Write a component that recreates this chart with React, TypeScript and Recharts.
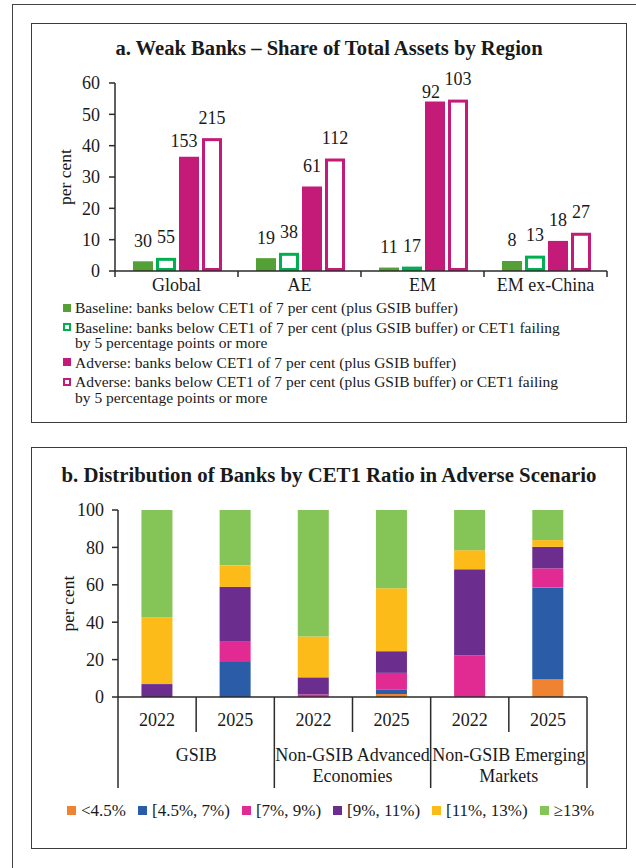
import React from 'react';
import { BarChart, Bar, XAxis, YAxis, LabelList, Label } from 'recharts';

const FONT = '"Liberation Serif", "Times New Roman", serif';
const INK = '#1a1a1a';
const AXIS = '#2b2b2b';

// ---------- Panel a: Weak banks – share of total assets by region ----------
const regions = ['Global', 'AE', 'EM', 'EM ex-China'];
const baselineBelow = [3.1, 4.1, 1.1, 3.2];
const baselineBelowOrFailing = [4.2, 5.8, 1.4, 4.9];
const adverseBelow = [36.5, 27.0, 54.1, 9.6];
const adverseBelowOrFailing = [42.4, 35.9, 54.7, 12.2];
const baselineBelowCount = [30, 19, 11, 8];
const baselineBelowOrFailingCount = [55, 38, 17, 13];
const adverseBelowCount = [153, 61, 92, 18];
const adverseBelowOrFailingCount = [215, 112, 103, 27];
const panelATicks = [0, 10, 20, 30, 40, 50, 60];

const legendA = [
  { key: 'bb', color: '#55a036', outline: false, lines: ['Baseline: banks below CET1 of 7 per cent (plus GSIB buffer)'] },
  { key: 'bbf', color: '#00b050', outline: true, lines: ['Baseline: banks below CET1 of 7 per cent (plus GSIB buffer) or CET1 failing', 'by 5 percentage points or more'] },
  { key: 'ab', color: '#c51b78', outline: false, lines: ['Adverse: banks below CET1 of 7 per cent (plus GSIB buffer)'] },
  { key: 'abf', color: '#c51b78', outline: true, lines: ['Adverse: banks below CET1 of 7 per cent (plus GSIB buffer) or CET1 failing', 'by 5 percentage points or more'] },
];

const panelAData = regions.map((region, i) => ({
  region,
  bb: baselineBelow[i],
  bbf: baselineBelowOrFailing[i],
  ab: adverseBelow[i],
  abf: adverseBelowOrFailing[i],
  bbN: baselineBelowCount[i],
  bbfN: baselineBelowOrFailingCount[i],
  abN: adverseBelowCount[i],
  abfN: adverseBelowOrFailingCount[i],
}));

// ---------- Panel b: distribution of banks by CET1 ratio ----------
const years = ['2022', '2025', '2022', '2025', '2022', '2025'];
const groupLabels = [['GSIB'], ['Non-GSIB Advanced', 'Economies'], ['Non-GSIB Emerging', 'Markets']];
const below45 = [0, 0, 0, 1.6, 0, 9.3];
const from45to7 = [0, 18.7, 0, 2.5, 0, 49.3];
const from7to9 = [0, 10.8, 1.4, 8.8, 22.2, 10.2];
const from9to11 = [6.9, 29.4, 9.1, 11.6, 46.1, 11.5];
const from11to13 = [35.6, 11.5, 21.8, 33.6, 10.2, 3.6];
const atLeast13 = [57.5, 29.6, 67.7, 41.9, 21.5, 16.1];
const panelBTicks = [0, 20, 40, 60, 80, 100];

const seriesB = [
  { key: 's1', name: '<4.5%', color: '#f08331', values: below45 },
  { key: 's2', name: '[4.5%, 7%)', color: '#2b5ca8', values: from45to7 },
  { key: 's3', name: '[7%, 9%)', color: '#e22a93', values: from7to9 },
  { key: 's4', name: '[9%, 11%)', color: '#6b2e8f', values: from9to11 },
  { key: 's5', name: '[11%, 13%)', color: '#fdbb19', values: from11to13 },
  { key: 's6', name: '≥13%', color: '#85c457', values: atLeast13 },
];

const panelBData = years.map((year, i) => {
  const row: any = { cat: `${i}`, year };
  seriesB.forEach((s) => { row[s.key] = s.values[i]; });
  return row;
});

// ---------- layout constants ----------
const A_MARGIN = { top: 83, right: 29, left: 55, bottom: 0 };
const A_W = 636, A_H = 301, Y_W = 60, A_XH = 30;
const A_BAND = (A_W - A_MARGIN.left - A_MARGIN.right - Y_W) / regions.length;

const B_MARGIN = { top: 70, right: 49, left: 58, bottom: 0 };
const B_W = 636, B_H = 360, B_XH = 103;
const B_BAND = (B_W - B_MARGIN.left - B_MARGIN.right - Y_W) / years.length;

// label nudges for the count annotations (series -> index -> [dx, dy])
const labelNudge: Record<string, Record<number, [number, number]>> = {
  ab: { 0: [-5, 5], 2: [-4, 11] },
};

const makeCountLabel = (seriesKey: string) => (props: any) => {
  const { x, y, width, value, index } = props;
  const n = (labelNudge[seriesKey] && labelNudge[seriesKey][index]) || [0, 0];
  return (
    <text
      x={x + width / 2 + n[0]}
      y={y - 20.5 + n[1]}
      textAnchor="middle"
      dominantBaseline="central"
      fontSize={18}
      fontFamily={FONT}
      fill={INK}
    >
      {value}
    </text>
  );
};

const outlineShape = (color: string) => (props: any) => {
  const { x, y, width, height } = props;
  if (!height || height <= 0) return <g />;
  const sw = 3;
  return (
    <rect
      x={x + sw / 2}
      y={y + sw / 2}
      width={Math.max(width - sw, 0)}
      height={Math.max(height - sw, 0.5)}
      fill="#fff"
      stroke={color}
      strokeWidth={sw}
    />
  );
};

const RegionTick = (props: any) => {
  const { x, y, payload, index } = props;
  const half = A_BAND / 2;
  return (
    <g>
      <line x1={x - half} y1={y} x2={x - half} y2={y + 6} stroke={AXIS} strokeWidth={1.5} />
      {index === regions.length - 1 && (
        <line x1={x + half} y1={y} x2={x + half} y2={y + 6} stroke={AXIS} strokeWidth={1.5} />
      )}
      <text x={x} y={y + 14} textAnchor="middle" dominantBaseline="central" fontSize={18} fontFamily={FONT} fill={INK}>
        {payload.value}
      </text>
    </g>
  );
};

const YearTick = (props: any) => {
  const { x, y, index } = props;
  const half = B_BAND / 2;
  const groupStart = index % 2 === 0;
  const lines = groupLabels[Math.floor(index / 2)];
  return (
    <g>
      <line x1={x - half} y1={y} x2={x - half} y2={y + (groupStart ? 91 : 35)} stroke={AXIS} strokeWidth={1.5} />
      {index === years.length - 1 && (
        <line x1={x + half} y1={y} x2={x + half} y2={y + 91} stroke={AXIS} strokeWidth={1.5} />
      )}
      <text x={x} y={y + 23} textAnchor="middle" dominantBaseline="central" fontSize={18} fontFamily={FONT} fill={INK}>
        {years[index]}
      </text>
      {!groupStart &&
        lines.map((ln, k) => (
          <text
            key={k}
            x={x - half}
            y={y + 58 + k * 21}
            textAnchor="middle"
            dominantBaseline="central"
            fontSize={18}
            fontFamily={FONT}
            fill={INK}
          >
            {ln}
          </text>
        ))}
    </g>
  );
};

const perCentLabel = (props: any) => {
  const vb = props.viewBox || {};
  const cx = (vb.x || 0) + 10;
  const cy = (vb.y || 0) + (vb.height || 0) / 2;
  return (
    <text
      x={cx}
      y={cy}
      transform={`rotate(-90, ${cx}, ${cy})`}
      textAnchor="middle"
      dominantBaseline="central"
      fontSize={17.5}
      fontFamily={FONT}
      fill={INK}
    >
      per cent
    </text>
  );
};

const yTick = { fontSize: 18, fontFamily: FONT, fill: INK };

export default function App() {
  return (
    <div style={{ position: 'absolute', left: 0, top: 0, width: 636, height: 868, overflow: 'hidden', background: '#fff', fontFamily: FONT }}>
      {/* outer frame */}
      <div style={{ position: 'absolute', left: 12, top: 3.5, width: 700, height: 900, borderLeft: '1.5px solid #444', borderTop: '1.5px solid #444' }} />
      {/* panel boxes */}
      <div style={{ position: 'absolute', left: 31, top: 23, width: 596, height: 400, border: '1.5px solid #3a3a3a', boxSizing: 'border-box' }} />
      <div style={{ position: 'absolute', left: 31, top: 447, width: 596, height: 402, border: '1.5px solid #3a3a3a', boxSizing: 'border-box' }} />

      {/* titles */}
      <div style={{ position: 'absolute', left: 31, width: 596, top: 36, lineHeight: '24px', textAlign: 'center', fontSize: 20.6, fontWeight: 'bold', color: INK }}>
        a. Weak Banks – Share of Total Assets by Region
      </div>
      <div style={{ position: 'absolute', left: 31, width: 596, top: 463, lineHeight: '24px', textAlign: 'center', fontSize: 20.8, fontWeight: 'bold', color: INK }}>
        b. Distribution of Banks by CET1 Ratio in Adverse Scenario
      </div>

      {/* panel a chart */}
      <div style={{ position: 'absolute', left: 0, top: 0 }}>
        <BarChart width={A_W} height={A_H} data={panelAData} margin={A_MARGIN} barCategoryGap={18} barGap={3}>
          <XAxis
            dataKey="region"
            interval={0}
            tickSize={0}
            tickMargin={0}
            tickLine={false}
            height={A_XH}
            axisLine={{ stroke: AXIS, strokeWidth: 1.5 }}
            tick={<RegionTick />}
          />
          <YAxis
            width={Y_W}
            domain={[0, 60]}
            ticks={panelATicks}
            interval={0}
            tick={yTick}
            tickSize={6}
            tickMargin={9}
            axisLine={{ stroke: AXIS, strokeWidth: 1.5 }}
            tickLine={{ stroke: AXIS, strokeWidth: 1.5 }}
          >
            <Label content={perCentLabel} />
          </YAxis>
          <Bar dataKey="bb" fill="#55a036" isAnimationActive={false}>
            <LabelList dataKey="bbN" content={makeCountLabel('bb')} />
          </Bar>
          <Bar dataKey="bbf" fill="#ffffff" shape={outlineShape('#00b050')} isAnimationActive={false}>
            <LabelList dataKey="bbfN" content={makeCountLabel('bbf')} />
          </Bar>
          <Bar dataKey="ab" fill="#c51b78" isAnimationActive={false}>
            <LabelList dataKey="abN" content={makeCountLabel('ab')} />
          </Bar>
          <Bar dataKey="abf" fill="#ffffff" shape={outlineShape('#c51b78')} isAnimationActive={false}>
            <LabelList dataKey="abfN" content={makeCountLabel('abf')} />
          </Bar>
        </BarChart>
      </div>

      {/* panel a legend */}
      <div style={{ position: 'absolute', left: 63, top: 300, fontSize: 15.5, lineHeight: '15.5px', color: INK }}>
        {legendA.map((it) => (
          <div key={it.key} style={{ position: 'relative', paddingLeft: 12, marginBottom: 4 }}>
            <span
              style={{
                position: 'absolute',
                left: 0,
                top: 3.75,
                width: 8,
                height: 8,
                boxSizing: 'border-box',
                background: it.outline ? '#fff' : it.color,
                border: it.outline ? `2px solid ${it.color}` : 'none',
              }}
            />
            {it.lines.map((ln, k) => (
              <div key={k} style={{ whiteSpace: 'nowrap' }}>{ln}</div>
            ))}
          </div>
        ))}
      </div>

      {/* panel b chart */}
      <div style={{ position: 'absolute', left: 0, top: 440 }}>
        <BarChart width={B_W} height={B_H} data={panelBData} margin={B_MARGIN} barCategoryGap="30%">
          <XAxis
            dataKey="cat"
            interval={0}
            tickSize={0}
            tickMargin={0}
            tickLine={false}
            height={B_XH}
            axisLine={{ stroke: AXIS, strokeWidth: 1.5 }}
            tick={<YearTick />}
          />
          <YAxis
            width={Y_W}
            domain={[0, 100]}
            ticks={panelBTicks}
            interval={0}
            tick={yTick}
            tickSize={6}
            tickMargin={8}
            axisLine={{ stroke: AXIS, strokeWidth: 1.5 }}
            tickLine={{ stroke: AXIS, strokeWidth: 1.5 }}
          >
            <Label content={perCentLabel} />
          </YAxis>
          {seriesB.map((s) => (
            <Bar key={s.key} dataKey={s.key} stackId="a" fill={s.color} isAnimationActive={false} />
          ))}
        </BarChart>
      </div>

      {/* panel b legend */}
      <div style={{ position: 'absolute', left: 67, top: 800, height: 21, display: 'flex', alignItems: 'center', fontSize: 17, color: INK, whiteSpace: 'nowrap' }}>
        {seriesB.map((s) => (
          <div key={s.key} style={{ display: 'flex', alignItems: 'center', marginRight: 12 }}>
            <span style={{ display: 'inline-block', width: 9, height: 9, background: s.color, marginRight: 5 }} />
            <span>{s.name}</span>
          </div>
        ))}
      </div>
    </div>
  );
}
